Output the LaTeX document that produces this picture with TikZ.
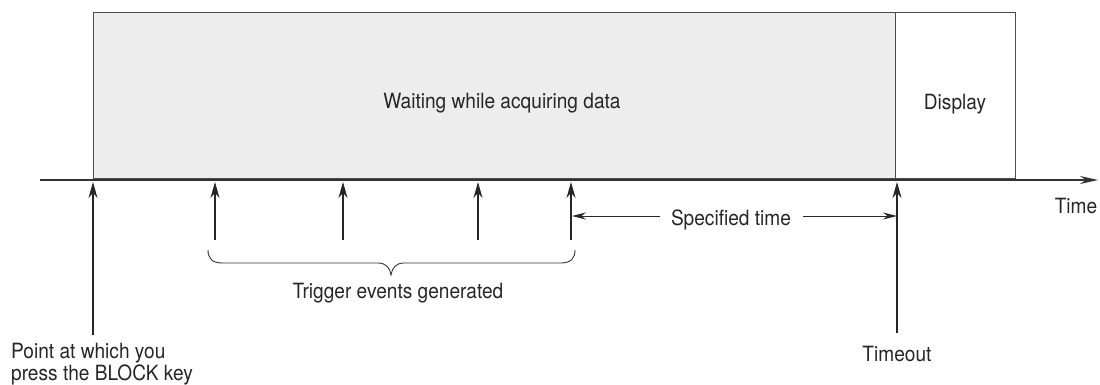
\documentclass[tikz,border=0pt]{standalone}
\usepackage{fontspec}
\setmainfont{TeX Gyre Heros}[FakeStretch=0.91]
\usetikzlibrary{arrows.meta}
\begin{document}
\begin{tikzpicture}[x=1pt,y=-1pt,
  lbl/.style={font=\fontsize{21}{22}\selectfont, inner sep=0pt, text=black!85},
  ev/.style={-{Stealth[length=16pt,width=9pt]}, line width=1.2pt, black!85},
  dimarr/.style={-{Stealth[length=14pt,width=7pt]}, line width=1pt, black!85}]
\useasboundingbox (0,0) rectangle (1100,385);
% boxes
\node[draw=black!70, fill=black!7, line width=0.8pt, minimum width=802pt, minimum height=166pt, anchor=north west, inner sep=0pt] (wait) at (93,12) {};
\node[draw=black!70, line width=0.8pt, minimum width=120pt, minimum height=166pt, anchor=north west, inner sep=0pt] (disp) at (895,12) {};
\node[lbl, anchor=base] (waittxt) at (502,109) {Waiting while acquiring data};
\node[lbl, anchor=base] (disptxt) at (955,110) {Display};
% timeline
\coordinate (t0) at (40,180);
\coordinate (t1) at (1098,180);
\draw[-{Stealth[length=18pt,width=8pt]}, line width=1.8pt, black!80] (t0) -- (t1);
\node[lbl, anchor=base] (time) at (1076,213) {Time};
% BLOCK key arrow
\coordinate (b0) at (93,335);
\coordinate (b1) at (93,182);
\draw[ev] (b0) -- (b1);
\node[lbl, align=left, anchor=base west] (blk) at (11,380) {Point at which you\\press the BLOCK key};
% trigger events
\foreach \x/\n in {215/e1,343/e2,478/e3,571/e4}{
  \coordinate (\n a) at (\x,240);
  \coordinate (\n b) at (\x,182);
  \draw[ev] (\n a) -- (\n b);
}
\coordinate (br0) at (208,250);
\coordinate (br1) at (575,250);
\coordinate (brt) at (391,275);
\draw[line width=0.9pt, black!80] (br0) .. controls (208,258) and (212,263) .. (222,263) -- (378,263)
  .. controls (386,263) and (390,268) .. (brt)
  .. controls (392,268) and (396,263) .. (404,263) -- (561,263)
  .. controls (571,263) and (575,258) .. (br1);
\node[lbl, anchor=base] (trig) at (398,298) {Trigger events generated};
% timeout
\coordinate (to0) at (897,333);
\coordinate (to1) at (897,182);
\draw[ev] (to0) -- (to1);
\node[lbl, anchor=base] (tout) at (897,361) {Timeout};
% specified time
\node[lbl, anchor=base] (spec) at (731,225) {Specified time};
\coordinate (sl) at (660,216);
\coordinate (sr) at (803,216);
\coordinate (s0) at (572,216);
\coordinate (s1) at (897,216);
\draw[dimarr] (sl) -- (s0);
\draw[dimarr] (sr) -- (s1);
\end{tikzpicture}
\end{document}
